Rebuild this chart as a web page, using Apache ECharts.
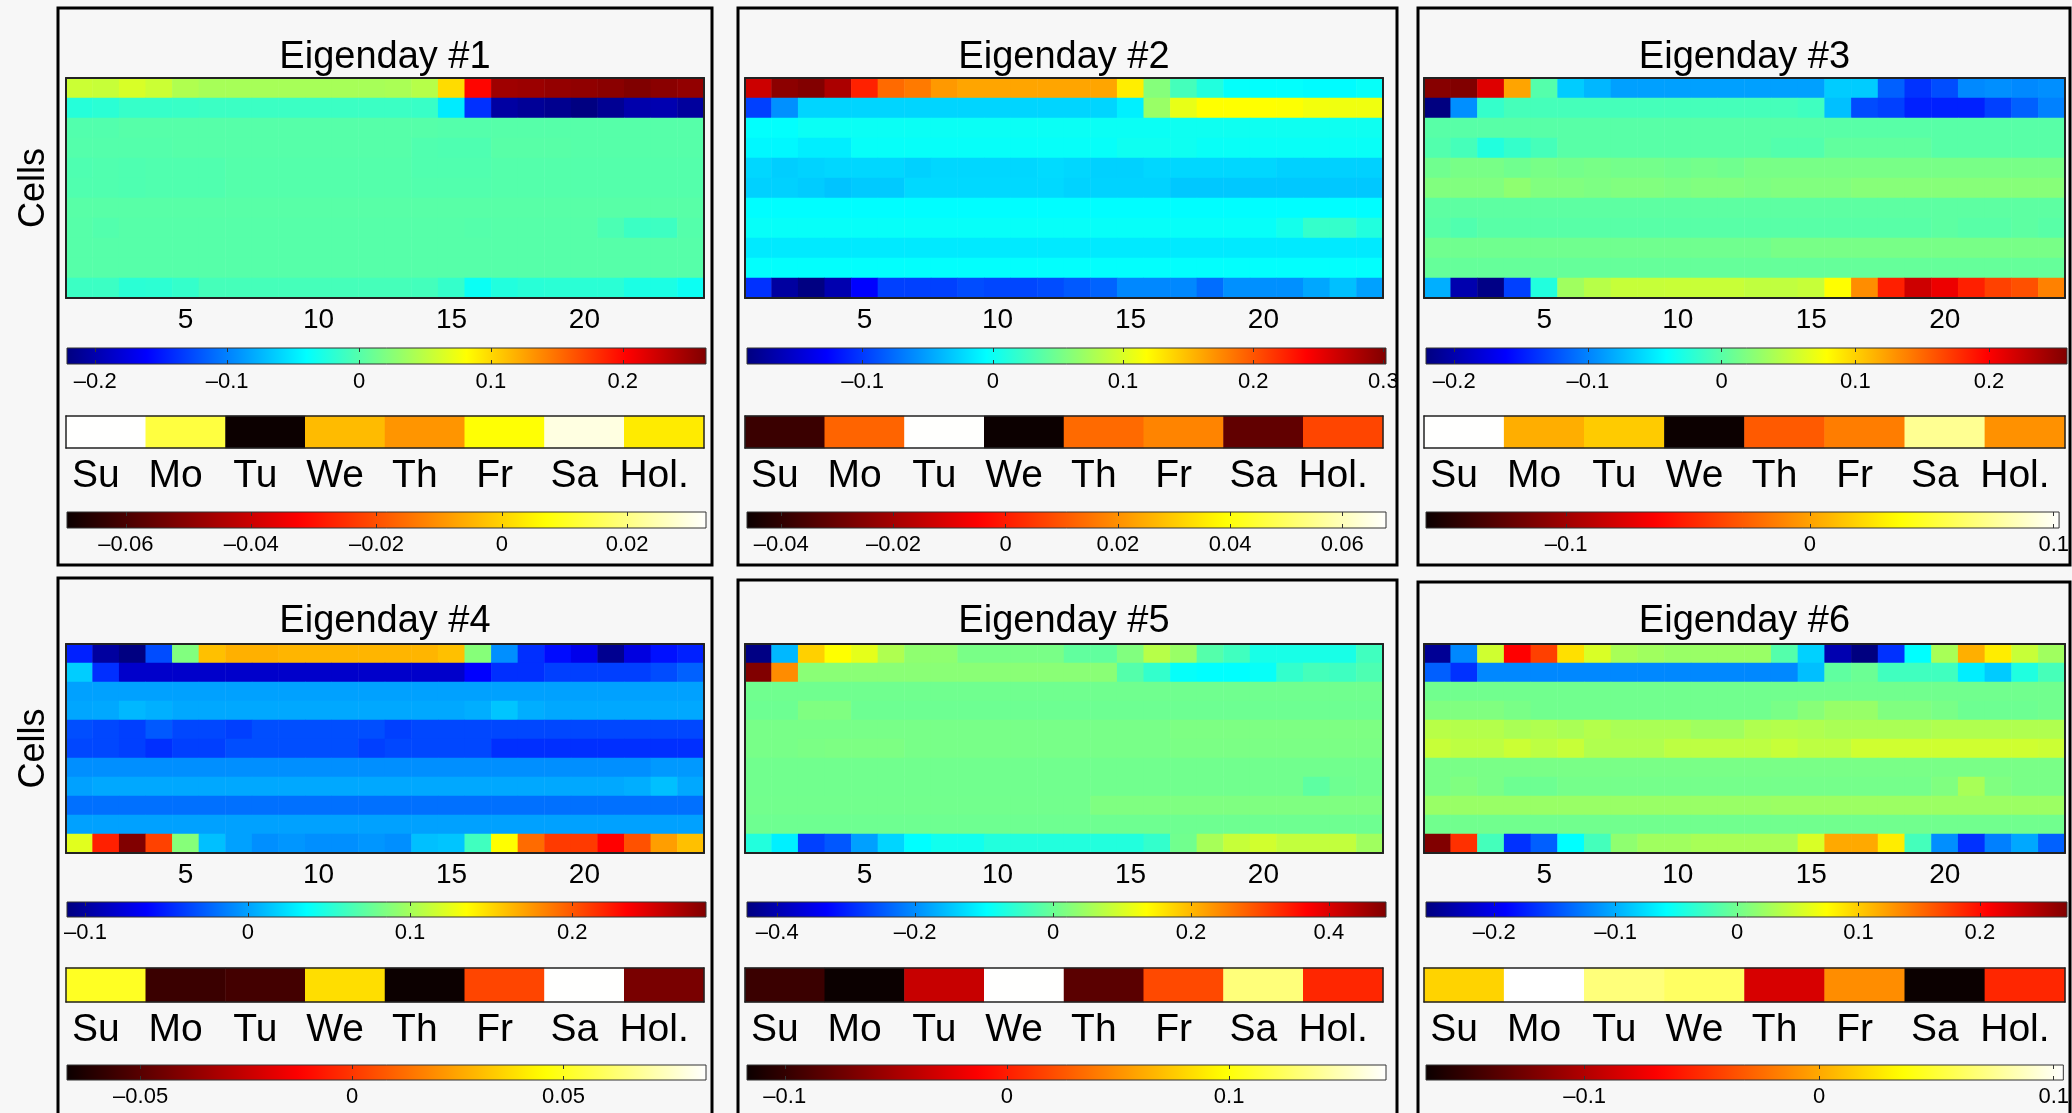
<!DOCTYPE html>
<html>
<head>
<meta charset="utf-8">
<script src="https://cdn.jsdelivr.net/npm/echarts@6/dist/echarts.min.js"></script>
<style>
  html, body { margin: 0; padding: 0; background: #f7f7f7; }
  #chart { width: 2072px; height: 1113px; }
</style>
</head>
<body>
<div id="chart"></div>
<script>
// ---- data -----------------------------------------------------------
const hours = ['1','2','3','4','5','6','7','8','9','10','11','12','13','14','15','16','17','18','19','20','21','22','23','24'];
const cells = ['1','2','3','4','5','6','7','8','9','10','11'];
const dayNames = ['Su', 'Mo', 'Tu', 'We', 'Th', 'Fr', 'Sa', 'Hol.'];
const titles = ['Eigenday #1', 'Eigenday #2', 'Eigenday #3', 'Eigenday #4', 'Eigenday #5', 'Eigenday #6'];

// cell x hour loadings, one row per cell
const eigenday1 = [
  [0.057,0.055,0.063,0.057,0.044,0.040,0.040,0.040,0.040,0.040,0.040,0.040,0.041,0.047,0.098,0.200,0.248,0.250,0.253,0.255,0.258,0.263,0.258,0.254],
  [-0.022,-0.020,-0.014,-0.014,-0.013,-0.012,-0.012,-0.012,-0.012,-0.012,-0.012,-0.012,-0.012,-0.013,-0.049,-0.138,-0.205,-0.210,-0.214,-0.221,-0.212,-0.200,-0.198,-0.207],
  [-0.001,-0.001,0.001,0.001,0.001,0.001,0.001,0.001,0.001,0.001,0.001,0.001,0.001,0.001,0.000,0.000,0.001,0.001,0.001,0.001,0.001,0.001,0.001,0.001],
  [0.000,0.000,0.000,0.000,0.001,0.001,0.001,0.001,0.001,0.001,0.001,0.001,0.001,-0.002,-0.003,-0.003,0.002,0.002,0.002,0.001,0.001,0.001,0.001,0.001],
  [-0.003,-0.002,-0.003,-0.002,-0.002,-0.002,0.000,0.000,0.000,0.000,0.000,0.000,0.000,-0.002,-0.002,-0.002,0.000,0.000,0.000,0.000,0.000,0.000,0.000,0.000],
  [-0.002,-0.002,-0.003,-0.002,-0.002,-0.002,0.000,0.000,0.000,0.000,0.000,0.000,0.000,-0.001,-0.001,-0.001,0.000,0.000,0.000,0.000,0.000,0.000,0.000,0.000],
  [0.002,0.002,0.002,0.002,0.002,0.002,0.002,0.002,0.002,0.002,0.002,0.002,0.002,0.002,0.002,0.002,0.002,0.002,0.002,0.002,0.002,0.002,0.002,0.002],
  [0.001,-0.001,0.001,0.001,0.001,0.001,0.001,0.001,0.001,0.001,0.001,0.001,0.001,0.001,0.001,0.000,0.001,0.001,0.001,0.001,-0.004,-0.012,-0.011,0.000],
  [0.001,0.001,0.001,0.001,0.001,0.001,0.001,0.001,0.001,0.001,0.001,0.001,0.001,0.001,0.001,0.001,0.001,0.001,0.001,0.001,0.001,0.001,0.001,0.001],
  [0.001,0.001,0.001,0.001,0.001,0.001,0.001,0.001,0.001,0.001,0.001,0.001,0.001,0.001,0.001,0.001,0.001,0.001,0.001,0.001,0.001,0.001,0.001,0.001],
  [-0.012,-0.012,-0.020,-0.019,-0.015,-0.007,-0.007,-0.007,-0.007,-0.007,-0.007,-0.007,-0.007,-0.008,-0.015,-0.035,-0.024,-0.021,-0.020,-0.020,-0.020,-0.027,-0.027,-0.034]
];
const eigenday2 = [
  [0.265,0.296,0.301,0.281,0.225,0.190,0.182,0.167,0.161,0.161,0.161,0.161,0.161,0.161,0.126,0.059,0.028,0.011,-0.003,-0.004,-0.004,-0.006,-0.006,-0.002],
  [-0.097,-0.058,-0.025,-0.025,-0.025,-0.025,-0.025,-0.025,-0.025,-0.025,-0.025,-0.025,-0.025,-0.025,-0.012,0.069,0.107,0.118,0.118,0.118,0.117,0.112,0.111,0.111],
  [-0.004,-0.004,0.000,0.000,0.000,0.000,0.000,0.000,0.000,0.000,0.000,0.000,0.000,0.000,0.000,0.000,0.002,0.002,0.002,0.002,0.002,0.002,0.002,0.002],
  [-0.008,-0.008,-0.013,-0.013,-0.002,-0.002,-0.002,-0.002,-0.002,-0.002,-0.002,-0.002,-0.002,-0.002,0.002,0.002,0.002,-0.001,-0.001,-0.001,-0.001,-0.001,-0.001,-0.001],
  [-0.024,-0.028,-0.026,-0.024,-0.024,-0.024,-0.027,-0.024,-0.024,-0.024,-0.024,-0.022,-0.024,-0.027,-0.027,-0.024,-0.024,-0.024,-0.024,-0.024,-0.027,-0.027,-0.027,-0.027],
  [-0.027,-0.027,-0.029,-0.033,-0.030,-0.030,-0.023,-0.023,-0.023,-0.023,-0.023,-0.023,-0.026,-0.026,-0.026,-0.026,-0.031,-0.031,-0.031,-0.031,-0.031,-0.031,-0.031,-0.031],
  [-0.005,-0.005,-0.005,-0.005,-0.005,-0.005,-0.005,-0.005,-0.005,-0.005,-0.005,-0.005,-0.005,-0.005,-0.005,-0.005,-0.005,-0.005,-0.005,-0.005,-0.005,-0.005,-0.005,-0.005],
  [-0.002,-0.002,-0.002,-0.002,-0.002,-0.002,-0.002,-0.002,-0.002,-0.002,-0.002,-0.002,-0.002,-0.002,-0.002,-0.002,-0.002,-0.002,-0.002,-0.002,0.005,0.020,0.020,0.011],
  [-0.015,-0.015,-0.015,-0.015,-0.015,-0.015,-0.015,-0.015,-0.015,-0.015,-0.015,-0.015,-0.015,-0.015,-0.015,-0.015,-0.015,-0.015,-0.015,-0.015,-0.015,-0.015,-0.015,-0.015],
  [-0.004,-0.004,-0.004,-0.004,-0.004,-0.004,-0.004,-0.004,-0.004,-0.004,-0.004,-0.004,-0.004,-0.004,-0.004,-0.004,-0.004,-0.004,-0.004,-0.004,-0.004,-0.004,-0.004,-0.004],
  [-0.104,-0.173,-0.188,-0.166,-0.127,-0.097,-0.097,-0.097,-0.091,-0.094,-0.094,-0.091,-0.085,-0.080,-0.062,-0.062,-0.062,-0.075,-0.058,-0.058,-0.058,-0.047,-0.035,-0.050]
];
const eigenday3 = [
  [0.255,0.258,0.214,0.121,-0.002,-0.065,-0.075,-0.086,-0.086,-0.086,-0.086,-0.086,-0.086,-0.086,-0.086,-0.065,-0.065,-0.116,-0.138,-0.125,-0.097,-0.094,-0.097,-0.094],
  [-0.221,-0.094,-0.017,-0.009,-0.009,-0.009,-0.009,-0.009,-0.009,-0.009,-0.009,-0.009,-0.009,-0.009,-0.012,-0.071,-0.126,-0.131,-0.146,-0.146,-0.146,-0.131,-0.116,-0.101],
  [0.000,0.000,0.000,0.000,0.000,0.000,0.000,0.000,0.000,0.000,0.000,0.000,0.000,0.000,0.000,0.000,0.000,0.000,0.000,0.000,0.000,0.000,0.000,0.000],
  [-0.003,-0.009,-0.026,-0.017,-0.009,0.000,0.000,0.000,0.000,0.000,0.000,0.000,0.000,-0.003,-0.003,0.004,0.004,0.004,0.004,0.000,0.000,0.000,0.000,0.000],
  [0.011,0.015,0.015,0.011,0.015,0.013,0.015,0.013,0.013,0.011,0.013,0.011,0.015,0.015,0.015,0.015,0.015,0.015,0.015,0.015,0.015,0.015,0.015,0.015],
  [0.019,0.019,0.019,0.026,0.019,0.019,0.017,0.019,0.019,0.017,0.019,0.019,0.017,0.019,0.019,0.019,0.022,0.022,0.022,0.022,0.022,0.022,0.022,0.022],
  [0.002,0.002,0.002,0.002,0.002,0.002,0.002,0.002,0.002,0.002,0.002,0.002,0.002,0.002,0.002,0.002,0.002,0.002,0.002,0.002,0.002,0.002,0.002,0.002],
  [0.000,-0.004,0.000,0.000,0.000,0.000,0.000,0.000,0.000,0.000,0.000,0.000,0.000,0.000,0.000,0.000,0.000,0.000,0.000,0.002,0.000,0.000,0.002,0.000],
  [0.011,0.011,0.011,0.011,0.011,0.011,0.011,0.011,0.011,0.011,0.011,0.011,0.011,0.015,0.015,0.015,0.015,0.015,0.015,0.015,0.015,0.015,0.015,0.015],
  [0.006,0.006,0.006,0.006,0.006,0.006,0.006,0.006,0.006,0.006,0.006,0.006,0.006,0.006,0.006,0.006,0.006,0.006,0.006,0.006,0.006,0.006,0.006,0.006],
  [-0.079,-0.199,-0.218,-0.131,-0.026,0.034,0.045,0.052,0.052,0.053,0.053,0.053,0.049,0.049,0.052,0.079,0.132,0.184,0.222,0.207,0.184,0.168,0.161,0.138]
];
const eigenday4 = [
  [-0.050,-0.099,-0.111,-0.033,0.086,0.159,0.165,0.165,0.163,0.163,0.163,0.163,0.163,0.163,0.159,0.088,-0.007,-0.044,-0.058,-0.070,-0.105,-0.074,-0.056,-0.050],
  [0.017,-0.044,-0.082,-0.082,-0.082,-0.082,-0.082,-0.082,-0.082,-0.082,-0.082,-0.082,-0.082,-0.082,-0.082,-0.062,-0.044,-0.044,-0.038,-0.038,-0.038,-0.038,-0.033,-0.025],
  [0.000,0.000,0.000,0.000,0.000,0.000,0.000,0.000,0.000,0.000,0.000,0.000,0.000,0.000,0.000,0.000,0.000,0.000,0.000,0.000,0.000,0.000,0.000,0.000],
  [0.002,0.003,0.009,0.006,0.003,0.003,0.003,0.003,0.003,0.003,0.003,0.003,0.003,0.003,0.003,0.005,0.014,0.005,0.003,0.003,0.003,0.003,0.003,0.003],
  [-0.032,-0.035,-0.038,-0.028,-0.035,-0.035,-0.038,-0.032,-0.032,-0.032,-0.032,-0.032,-0.038,-0.035,-0.035,-0.035,-0.035,-0.035,-0.035,-0.035,-0.035,-0.035,-0.035,-0.035],
  [-0.035,-0.035,-0.038,-0.044,-0.038,-0.038,-0.032,-0.032,-0.032,-0.032,-0.032,-0.038,-0.035,-0.035,-0.035,-0.035,-0.044,-0.044,-0.044,-0.044,-0.044,-0.044,-0.044,-0.044],
  [-0.007,-0.007,-0.007,-0.007,-0.007,-0.007,-0.007,-0.007,-0.007,-0.007,-0.007,-0.007,-0.007,-0.007,-0.007,-0.007,-0.007,-0.007,-0.007,-0.007,-0.007,-0.007,-0.003,-0.003],
  [0.000,0.003,0.003,0.003,0.003,0.003,0.003,0.003,0.003,0.003,0.003,0.003,0.003,0.003,0.003,0.003,0.003,0.003,0.003,0.003,0.003,0.005,0.012,0.003],
  [-0.019,-0.019,-0.019,-0.019,-0.019,-0.019,-0.019,-0.019,-0.019,-0.019,-0.019,-0.019,-0.019,-0.019,-0.019,-0.019,-0.019,-0.019,-0.019,-0.019,-0.019,-0.019,-0.019,-0.019],
  [0.000,0.000,0.000,0.000,0.000,0.000,0.000,0.000,0.000,0.000,0.000,0.000,0.000,0.000,0.000,0.000,0.000,0.000,0.000,0.000,0.000,0.000,0.000,0.000],
  [0.123,0.221,0.282,0.208,0.088,0.012,0.000,-0.007,-0.004,-0.007,-0.007,-0.004,-0.007,0.012,0.014,0.061,0.135,0.192,0.211,0.211,0.233,0.202,0.172,0.159]
];
const eigenday5 = [
  [-0.440,-0.161,0.178,0.135,0.112,0.063,0.034,0.034,0.013,0.013,0.013,0.013,-0.009,-0.009,0.020,0.070,0.043,-0.020,-0.038,-0.075,-0.075,-0.075,-0.075,-0.038],
  [0.482,0.240,0.029,0.029,0.029,0.029,0.029,0.029,0.029,0.029,0.029,0.029,0.029,0.029,-0.020,-0.050,-0.092,-0.096,-0.096,-0.090,-0.050,-0.034,-0.040,-0.027],
  [0.005,0.005,0.005,0.005,0.005,0.005,0.005,0.005,0.005,0.005,0.005,0.005,0.005,0.005,0.005,0.005,0.005,0.005,0.005,0.005,0.005,0.005,0.005,0.005],
  [0.002,0.002,0.019,0.019,0.002,0.002,0.002,0.002,0.002,0.002,0.002,0.002,0.002,0.002,0.002,0.002,0.002,0.002,0.002,0.002,0.002,0.002,0.002,0.002],
  [0.012,0.012,0.012,0.012,0.012,0.012,0.012,0.012,0.012,0.012,0.012,0.012,0.012,0.012,0.012,0.012,0.017,0.017,0.017,0.017,0.017,0.017,0.017,0.017],
  [0.012,0.012,0.015,0.017,0.017,0.017,0.012,0.012,0.012,0.012,0.012,0.012,0.012,0.012,0.012,0.012,0.015,0.015,0.015,0.015,0.015,0.015,0.015,0.015],
  [0.006,0.006,0.006,0.006,0.006,0.006,0.006,0.006,0.006,0.006,0.006,0.006,0.006,0.006,0.006,0.006,0.006,0.006,0.006,0.006,0.006,0.006,0.006,0.006],
  [0.006,0.006,0.006,0.006,0.006,0.006,0.006,0.006,0.006,0.006,0.006,0.006,0.006,0.006,0.006,0.006,0.006,0.006,0.006,0.006,0.006,-0.012,0.003,0.006],
  [0.007,0.007,0.007,0.007,0.007,0.007,0.007,0.007,0.007,0.007,0.007,0.007,0.007,0.019,0.019,0.019,0.019,0.019,0.019,0.019,0.019,0.019,0.019,0.019],
  [0.003,0.003,0.003,0.003,0.003,0.003,0.003,0.003,0.003,0.003,0.003,0.003,0.003,0.003,0.003,0.003,0.003,0.003,0.003,0.003,0.003,0.003,0.003,0.003],
  [-0.066,-0.110,-0.270,-0.249,-0.182,-0.134,-0.096,-0.081,-0.081,-0.066,-0.066,-0.066,-0.066,-0.066,-0.066,-0.050,0.006,0.056,0.084,0.094,0.080,0.080,0.080,0.049]
];
const eigenday6 = [
  [-0.245,-0.120,0.049,0.206,0.173,0.090,0.054,0.029,0.025,0.021,0.021,0.021,0.021,-0.015,-0.082,-0.231,-0.256,-0.165,-0.058,0.029,0.115,0.083,0.045,0.025],
  [-0.141,-0.165,-0.120,-0.120,-0.120,-0.120,-0.120,-0.120,-0.120,-0.120,-0.120,-0.120,-0.120,-0.120,-0.091,-0.009,-0.003,-0.025,-0.025,-0.025,-0.067,-0.085,-0.042,-0.022],
  [0.000,0.000,0.000,0.000,0.000,0.000,0.000,0.000,0.000,0.000,0.000,0.000,0.000,0.000,0.000,0.000,0.000,0.000,0.000,0.000,0.000,0.000,0.000,0.000],
  [0.008,0.008,0.008,0.004,0.000,0.000,0.000,0.000,0.000,0.000,0.000,0.000,0.000,0.004,0.012,0.020,0.020,0.008,0.008,0.004,-0.002,-0.002,-0.002,0.000],
  [0.037,0.035,0.035,0.030,0.033,0.030,0.035,0.030,0.030,0.030,0.025,0.025,0.033,0.035,0.033,0.030,0.030,0.030,0.030,0.033,0.033,0.033,0.033,0.033],
  [0.045,0.040,0.040,0.047,0.040,0.045,0.033,0.033,0.033,0.040,0.040,0.040,0.040,0.045,0.040,0.040,0.049,0.049,0.049,0.049,0.049,0.049,0.049,0.047],
  [0.004,0.004,0.004,0.004,0.004,0.004,0.004,0.004,0.004,0.004,0.004,0.004,0.004,0.004,0.004,0.004,0.004,0.004,0.004,0.004,0.004,0.004,0.004,0.004],
  [0.004,0.008,0.004,-0.002,-0.002,0.002,0.002,0.002,0.002,0.002,0.002,0.002,0.002,0.002,0.002,0.002,0.002,0.002,0.002,0.008,0.029,0.008,0.004,0.004],
  [0.021,0.021,0.021,0.021,0.021,0.021,0.021,0.021,0.021,0.021,0.021,0.021,0.021,0.023,0.023,0.023,0.023,0.023,0.023,0.023,0.023,0.023,0.023,0.023],
  [0.000,0.000,0.000,0.000,0.000,0.000,0.000,0.000,0.000,0.000,0.000,0.000,0.000,0.000,0.000,0.000,0.000,0.000,0.000,0.000,0.000,0.000,0.000,0.000],
  [0.271,0.181,-0.023,-0.165,-0.141,-0.058,-0.023,0.016,0.025,0.025,0.029,0.029,0.029,0.029,0.054,0.118,0.118,0.083,-0.023,-0.116,-0.165,-0.124,-0.103,-0.140]
];

// day-type loadings (Su .. Hol.)
const dayWeights1 = [0.0325, 0.0132, -0.0692, -0.0036, -0.0095, 0.0071, 0.0295, 0.0036];
const dayWeights2 = [-0.0380, 0.0125, 0.0676, -0.0460, 0.0135, 0.0180, -0.0314, 0.0073];
const dayWeights3 = [0.1020, 0.0048, 0.0162, -0.1570, -0.0277, -0.0144, 0.0740, -0.0066];
const dayWeights4 = [0.0506, -0.0567, -0.0546, 0.0379, -0.0672, 0.0035, 0.0835, -0.0425];
const dayWeights5 = [-0.0966, -0.1168, -0.0359, 0.1704, -0.0830, 0.0196, 0.1326, 0.0044];
const dayWeights6 = [0.0174, 0.1040, 0.0682, 0.0617, -0.0845, -0.0114, -0.1674, -0.0529];

// colour limits of the jet (cells x hours) and hot (day types) colour bars
const jetLimits = [[-0.2214, 0.2631], [-0.1888, 0.3020], [-0.2211, 0.2583], [-0.1114, 0.2824], [-0.4439, 0.4829], [-0.2562, 0.2718]];
const hotLimits = [[-0.0694, 0.0326], [-0.0461, 0.0678], [-0.1575, 0.1022], [-0.0674, 0.0837], [-0.1170, 0.1706], [-0.1676, 0.1041]];

// colour bar tick labels
const jetTicks = [
  [-0.2, -0.1, 0, 0.1, 0.2],
  [-0.1, 0, 0.1, 0.2, 0.3],
  [-0.2, -0.1, 0, 0.1, 0.2],
  [-0.1, 0, 0.1, 0.2],
  [-0.4, -0.2, 0, 0.2, 0.4],
  [-0.2, -0.1, 0, 0.1, 0.2]
];
const hotTicks = [
  [-0.06, -0.04, -0.02, 0, 0.02],
  [-0.04, -0.02, 0, 0.02, 0.04, 0.06],
  [-0.1, 0, 0.1],
  [-0.05, 0, 0.05],
  [-0.1, 0, 0.1],
  [-0.1, 0, 0.1]
];

const eigendays = [eigenday1, eigenday2, eigenday3, eigenday4, eigenday5, eigenday6];
const dayWeights = [dayWeights1, dayWeights2, dayWeights3, dayWeights4, dayWeights5, dayWeights6];

// ---- colour maps ----------------------------------------------------
const clamp01 = v => Math.max(0, Math.min(1, v));
const hex = v => Math.round(clamp01(v) * 255).toString(16).padStart(2, '0');
const rgb = (r, g, b) => '#' + hex(r) + hex(g) + hex(b);
const jet = t => rgb(1.5 - Math.abs(4 * t - 3), 1.5 - Math.abs(4 * t - 2), 1.5 - Math.abs(4 * t - 1));
const hot = t => { const k = t * 63 + 1; return rgb(k / 24, (k - 24) / 24, (k - 48) / 16); };
const STEPS = 65;
const jetColors = Array.from({ length: STEPS }, (_, i) => jet(i / (STEPS - 1)));
const hotColors = Array.from({ length: STEPS }, (_, i) => hot(i / (STEPS - 1)));
const gradient = colors => ({
  type: 'linear', x: 0, y: 0, x2: 1, y2: 0,
  colorStops: colors.map((c, i) => ({ offset: i / (colors.length - 1), color: c }))
});

// ---- layout ---------------------------------------------------------
const FONT = '"Liberation Sans", Arial, Helvetica, sans-serif';
const colX = [66, 745, 1424];
const colW = [638, 638, 641];
const barX = [67, 747, 1426];
const barW = [639, 639, 641];
const rowLayout = [
  { title: 54, heat: [78, 220], jet: [348, 16], day: [416, 32], hot: [512, 16] },
  { title: 618, heat: [644, 209], jet: [902, 15], day: [968, 34], hot: [1065, 15] }
];
const frames = [
  [58, 8, 654, 557], [738, 8, 659, 557], [1418, 8, 652, 557],
  [58, 578, 654, 560], [738, 580, 659, 560], [1418, 582, 652, 560]
];

const fmt = v => String(v).replace('-', '\u2013');

const grid = [], xAxis = [], yAxis = [], series = [], visualMap = [], title = [];

eigendays.forEach((mat, p) => {
  const c = p % 3, r = Math.floor(p / 3);
  const L = rowLayout[r];
  const g0 = grid.length;

  // heat map grid
  grid.push({ left: colX[c], top: L.heat[0], width: colW[c], height: L.heat[1] });
  // jet colour bar
  grid.push({ left: barX[c], top: L.jet[0], width: barW[c], height: L.jet[1], show: true,
    backgroundColor: gradient(jetColors), borderColor: '#333', borderWidth: 1 });
  // day-type strip
  grid.push({ left: colX[c], top: L.day[0], width: colW[c], height: L.day[1] });
  // hot colour bar
  grid.push({ left: barX[c], top: L.hot[0], width: barW[c], height: L.hot[1], show: true,
    backgroundColor: gradient(hotColors), borderColor: '#333', borderWidth: 1 });

  const every5 = i => (i + 1) % 5 === 0;
  const frameLine = { show: true, lineStyle: { color: '#222', width: 2 } };

  // heat map axes
  const xHeat = xAxis.length;
  xAxis.push({ gridIndex: g0, type: 'category', data: hours, position: 'bottom', z: 5,
    axisLine: frameLine,
    axisTick: { inside: true, length: 6, alignWithLabel: true, interval: every5, lineStyle: { color: '#222' } },
    axisLabel: { interval: every5, fontSize: 28, margin: 8, color: '#000', fontFamily: FONT },
    splitLine: { show: false } });
  xAxis.push({ gridIndex: g0, type: 'category', data: hours, position: 'top', z: 5,
    axisLine: frameLine,
    axisTick: { inside: true, length: 6, alignWithLabel: true, interval: every5, lineStyle: { color: '#222' } },
    axisLabel: { show: false }, splitLine: { show: false } });
  const yHeat = yAxis.length;
  yAxis.push({ gridIndex: g0, type: 'category', data: cells, inverse: true, position: 'left', z: 5,
    axisLine: frameLine,
    axisTick: { inside: true, length: 6, alignWithLabel: true, interval: 0, lineStyle: { color: '#222' } },
    axisLabel: { show: false }, splitLine: { show: false },
    name: c === 0 ? 'Cells' : '', nameLocation: 'middle', nameRotate: 90, nameGap: 14,
    nameTextStyle: { fontSize: 36, color: '#000', fontFamily: FONT } });
  yAxis.push({ gridIndex: g0, type: 'category', data: cells, inverse: true, position: 'right', z: 5,
    axisLine: frameLine,
    axisTick: { inside: true, length: 6, alignWithLabel: true, interval: 0, lineStyle: { color: '#222' } },
    axisLabel: { show: false }, splitLine: { show: false } });

  // colour bar axes
  const barAxes = (gi, lim, ticks, margin) => {
    xAxis.push({ gridIndex: gi, type: 'value', min: lim[0], max: lim[1], position: 'bottom', z: 5,
      axisLine: { show: false }, splitLine: { show: false },
      axisTick: { show: true, inside: true, length: 4, customValues: ticks, lineStyle: { color: '#333' } },
      axisLabel: { customValues: ticks, formatter: fmt, fontSize: 22, margin: margin, color: '#000', fontFamily: FONT,
        showMinLabel: true, showMaxLabel: true, hideOverlap: false } });
    xAxis.push({ gridIndex: gi, type: 'value', min: lim[0], max: lim[1], position: 'top', z: 5,
      axisLine: { show: false }, splitLine: { show: false },
      axisTick: { show: true, inside: true, length: 4, customValues: ticks, lineStyle: { color: '#333' } },
      axisLabel: { show: false } });
    yAxis.push({ gridIndex: gi, type: 'value', show: false, min: 0, max: 1 });
  };
  barAxes(g0 + 1, jetLimits[p], jetTicks[p], r === 0 ? 7 : 5);

  // day strip axes
  const xDay = xAxis.length;
  xAxis.push({ gridIndex: g0 + 2, type: 'category', data: dayNames, position: 'bottom', z: 5,
    axisLine: { show: true, lineStyle: { color: '#222', width: 1.5 } },
    axisTick: { inside: true, length: 4, alignWithLabel: true, interval: 0, lineStyle: { color: '#333' } },
    axisLabel: { interval: 0, fontSize: 39, margin: 9, padding: [0, 20, 0, 0], color: '#000', fontFamily: FONT },
    splitLine: { show: false } });
  xAxis.push({ gridIndex: g0 + 2, type: 'category', data: dayNames, position: 'top', z: 5,
    axisLine: { show: true, lineStyle: { color: '#222', width: 1.5 } },
    axisTick: { inside: true, length: 4, alignWithLabel: true, interval: 0, lineStyle: { color: '#333' } },
    axisLabel: { show: false }, splitLine: { show: false } });
  const yDay = yAxis.length;
  yAxis.push({ gridIndex: g0 + 2, type: 'category', data: [''], z: 5,
    axisLine: { show: true, lineStyle: { color: '#222', width: 1.5 } },
    axisTick: { show: false }, axisLabel: { show: false } });
  yAxis.push({ gridIndex: g0 + 2, type: 'category', data: [''], position: 'right', z: 5,
    axisLine: { show: true, lineStyle: { color: '#222', width: 1.5 } },
    axisTick: { show: false }, axisLabel: { show: false } });

  barAxes(g0 + 3, hotLimits[p], hotTicks[p], 6);

  // series
  const heatData = [];
  mat.forEach((row, yi) => row.forEach((v, xi) => heatData.push([xi, yi, v])));
  series.push({ type: 'heatmap', xAxisIndex: xHeat, yAxisIndex: yHeat, data: heatData,
    itemStyle: { borderWidth: 0 }, emphasis: { disabled: true }, progressive: 0 });
  visualMap.push({ type: 'continuous', show: false, seriesIndex: series.length - 1,
    min: jetLimits[p][0], max: jetLimits[p][1], inRange: { color: jetColors } });

  series.push({ type: 'heatmap', xAxisIndex: xDay, yAxisIndex: yDay,
    data: dayWeights[p].map((v, i) => [i, 0, v]),
    itemStyle: { borderWidth: 0 }, emphasis: { disabled: true } });
  visualMap.push({ type: 'continuous', show: false, seriesIndex: series.length - 1,
    min: hotLimits[p][0], max: hotLimits[p][1], inRange: { color: hotColors } });

  title.push({ text: titles[p], left: colX[c] + colW[c] / 2 - 5, top: L.title - 20, textAlign: 'center',
    textStyle: { fontSize: 38, fontWeight: 'normal', color: '#000', fontFamily: FONT } });
});

const chart = echarts.init(document.getElementById('chart'), null, { renderer: 'canvas' });
chart.setOption({
  backgroundColor: '#f7f7f7',
  animation: false,
  textStyle: { fontFamily: FONT },
  title, grid, xAxis, yAxis, series, visualMap,
  graphic: frames.map(f => ({
    type: 'rect', silent: true, z: 100,
    shape: { x: f[0], y: f[1], width: f[2], height: f[3] },
    style: { fill: 'rgba(0,0,0,0)', stroke: '#000', lineWidth: 3 }
  }))
});
</script>
</body>
</html>
